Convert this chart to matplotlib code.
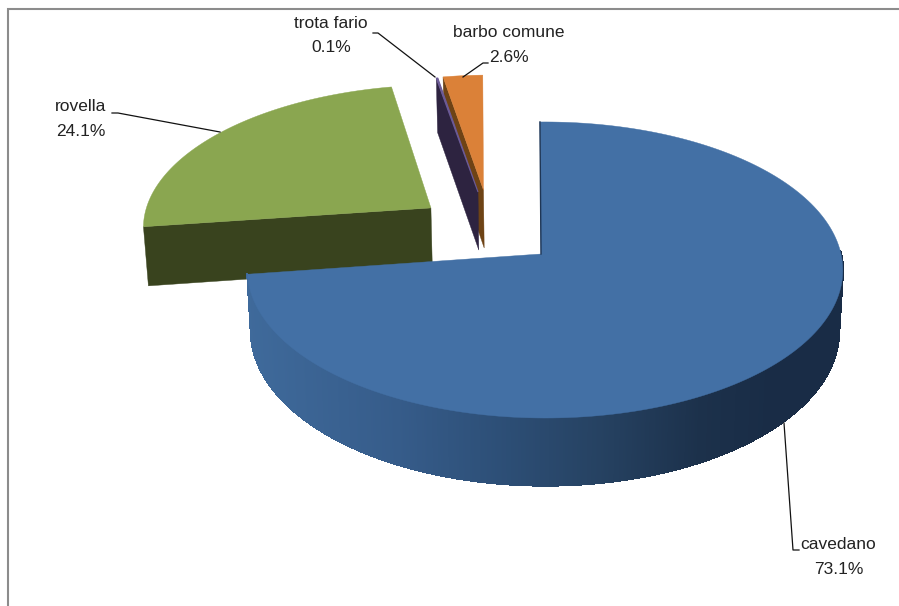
import numpy as np
import matplotlib
matplotlib.use("Agg")
import matplotlib.pyplot as plt
from matplotlib.collections import PolyCollection
from matplotlib.colors import to_rgb

species = ["cavedano", "rovella", "trota fario", "barbo comune"]
shares = [73.1, 24.1, 0.1, 2.6]

top_colors = ["#4370a5", "#8aa650", "#6b5a96", "#db8138"]
side_colors = ["#1f3655", "#39431e", "#2d2340", "#6e4315"]

# pie geometry, in pixels of the reference
origin_x, origin_y = 541, 254
radius_x, radius_y = 296, 146.3
perspective = 0.108
thickness = 60
bottom_scale = 0.9875
first_angle = 91

# exploded position of each slice apex, and its radius (pie units)
apex_x = [0.0, -0.385, -0.223, -0.204]
apex_y = [0.0, 0.326, 0.444, 0.459]
rim_radius = [1.0, 0.995, 0.955, 0.95]
rim_shift = [0.0135, 0.0, 0.0, 0.0]

# side wall shading, from left to right
wall_x = [250, 400, 500, 600, 700, 770, 850]
wall_rgb = np.array([to_rgb(c) for c in
                     ["#3f6a9b", "#365c8a", "#2d4f77", "#264262", "#1c314b", "#192c46", "#192c46"]])

# label anchor, then leader line
label_pos = [(838.5, 557), (81, 119), (331, 35.5), (509, 45)]
leader_x = [[784, 793, 799], [220, 118, 112], [435, 378, 373], [463, 483, 488]]
leader_y = [[423, 550, 550], [132, 113, 113], [77, 33, 33], [77, 63, 63]]


def project(x, y, bottom=False):
    x = np.asarray(x, dtype=float)
    y = np.asarray(y, dtype=float)
    depth = 1 + perspective * y
    if bottom:
        # front of the wall is closer so it comes out a bit taller
        extra = 2 * (y < 0) * (-y)
        return (origin_x + bottom_scale * radius_x * x / depth,
                origin_y + (thickness + extra - bottom_scale * radius_y * y) / depth)
    return origin_x + radius_x * x / depth, origin_y - radius_y * y / depth


def rim(i, angles, bottom=False):
    t = np.radians(angles)
    return project(apex_x[i] + rim_shift[i] + rim_radius[i] * np.cos(t),
                   apex_y[i] + rim_radius[i] * np.sin(t), bottom)


def top_face(ax, i, start, end, **kw):
    rx, ry = rim(i, np.linspace(start, end, 200))
    ax0, ay0 = project(apex_x[i], apex_y[i])
    ax.fill(np.r_[ax0, rx], np.r_[ay0, ry], color=top_colors[i], **kw)


def cut_face(ax, i, angle):
    # flat face between the apex and the rim at one angle
    x1, y1 = rim(i, angle)
    x2, y2 = rim(i, angle, True)
    ax0, ay0 = project(apex_x[i], apex_y[i])
    ax1, ay1 = project(apex_x[i], apex_y[i], True)
    ax.fill([ax0, x1, x2, ax1], [ay0, y1, y2, ay1], color=side_colors[i], lw=0.3)


# clockwise from the top, as fractions of the whole circle
sweep = np.array(shares) * 3.6
starts = first_angle - np.r_[0, np.cumsum(sweep)[:-1]]
ends = starts - sweep

fig = plt.figure(figsize=(8.99, 6.06), dpi=100)
ax = fig.add_axes([0, 0, 1, 1])
ax.set_xlim(0, 899)
ax.set_ylim(606, 0)
ax.axis("off")

# chart frame, only top and left fall inside the crop
ax.plot([899, 7.5, 7.5], [8.5, 8.5, 606], color="#8c8c8c", lw=1.5, solid_joinstyle="miter")

# back slices first
cut_face(ax, 3, starts[3])
top_face(ax, 3, starts[3], ends[3], lw=0.3)
cut_face(ax, 2, starts[2])
top_face(ax, 2, starts[2], ends[2], lw=0.8)
cut_face(ax, 1, starts[1])
top_face(ax, 1, starts[1], ends[1], lw=0.3)

# cavedano outer wall, cut in thin strips for the gradient
wall_angles = np.linspace(ends[0] + 360, 361, 700)
tx, ty = rim(0, wall_angles)
bx, by = rim(0, wall_angles, True)
strips = [[(tx[k], ty[k]), (tx[k + 1], ty[k + 1]), (bx[k + 1], by[k + 1]), (bx[k], by[k])]
          for k in range(len(wall_angles) - 1)]
strip_x = (bx[:-1] + bx[1:]) / 2
strip_rgb = np.column_stack([np.interp(strip_x, wall_x, wall_rgb[:, c]) for c in range(3)])
ax.add_collection(PolyCollection(strips, facecolors=strip_rgb, edgecolors=strip_rgb,
                                 linewidths=1.0, antialiaseds=False))

top_face(ax, 0, starts[0], ends[0], lw=0.3)

# thin dark edge of the cut at twelve o'clock
edge_x, edge_y = rim(0, starts[0])
ax.plot([origin_x, edge_x], [origin_y, edge_y], color="#1f3655", lw=1.0)

for name, share, pos, lx, ly in zip(species, shares, label_pos, leader_x, leader_y):
    ax.plot(lx, ly, color="#111111", lw=0.9)
    ax.text(pos[0], pos[1], f"{name}\n{share:.1f}%", ha="center", va="center",
            family="Liberation Sans", fontsize=12.5, color="#222222", linespacing=1.8)

fig.savefig("out.png", dpi=100)
